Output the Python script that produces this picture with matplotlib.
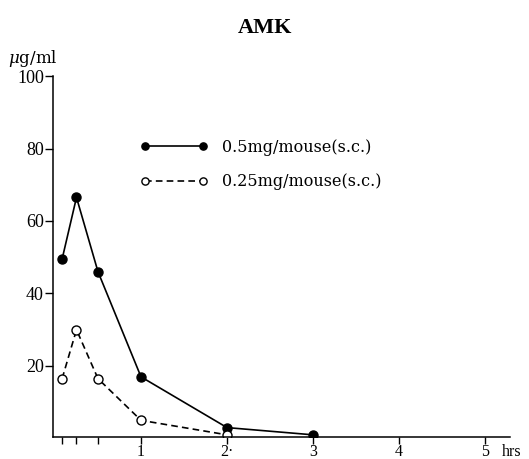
import matplotlib
matplotlib.use("Agg")
import matplotlib.pyplot as plt

plt.rcParams['font.family'] = ['Liberation Serif', 'DejaVu Serif']
plt.rcParams['mathtext.fontset'] = 'dejavuserif'

# sampling times (hours) and serum concentrations (ug/ml)
hours_high = [0.083, 0.25, 0.5, 1, 2, 3]
conc_high = [49.5, 66.5, 46, 17, 3, 1]
hours_low = [0.083, 0.25, 0.5, 1, 2]
conc_low = [16.5, 30, 16.5, 5, 1]

label_high = "0.5mg/mouse(s.c.)"
label_low = "0.25mg/mouse(s.c.)"

x_major = [1, 2, 3, 4, 5]
x_major_labels = ["1", "2·", "3", "4", "5"]
x_minor = [0.083, 0.25, 0.5]
y_ticks = [20, 40, 60, 80, 100]

fig = plt.figure(figsize=(5.29, 4.59), dpi=100)
ax = fig.add_axes([0.1002, 0.0479, 0.8639, 0.7865])

ax.plot(hours_high, conc_high, color='black', lw=1.2, marker='o', ms=6.5,
        mfc='black', mec='black', label=label_high)
ax.plot(hours_low, conc_low, color='black', lw=1.2, ls=(0, (4, 2.5)), marker='o',
        ms=6.5, mfc='white', mec='black', mew=1.0, label=label_low)

ax.set_xlim(-0.023, 5.29)
ax.set_ylim(0.4, 100)

for side in ('top', 'right'):
    ax.spines[side].set_visible(False)
for side in ('left', 'bottom'):
    ax.spines[side].set_linewidth(1.1)

ax.set_yticks(y_ticks)
ax.set_yticklabels([str(v) for v in y_ticks], fontsize=13)
ax.set_xticks(x_major)
ax.set_xticklabels(x_major_labels, fontsize=11.5)
ax.set_xticks(x_minor, minor=True)
ax.tick_params(axis='both', which='both', direction='out', width=1.0, color='black')
ax.tick_params(axis='x', which='both', length=5, pad=0.3)
ax.tick_params(axis='y', length=6, pad=0.5)

# unit label sits on the same line as the x tick labels
ax.annotate("hrs", xy=(5.19, 0), xycoords=('data', 'axes fraction'),
            xytext=(0, -5.3), textcoords='offset points',
            fontsize=11.5, va='top', ha='left')
fig.text(0.015, 0.872, r"$\mu$g/ml", fontsize=12, family='DejaVu Serif',
         va='center', ha='left')
fig.text(0.5, 0.94, "AMK", fontsize=16, fontweight='bold', va='center', ha='center')

ax.legend(loc='upper left', bbox_to_anchor=(0.2647, 0.698), bbox_transform=fig.transFigure,
          frameon=False, numpoints=2, markerscale=0.8, handlelength=4.25,
          handletextpad=0.875, labelspacing=1.1, borderaxespad=0, borderpad=0,
          prop={'size': 11.5, 'family': 'DejaVu Serif'})

fig.savefig("out.png", dpi=100)
